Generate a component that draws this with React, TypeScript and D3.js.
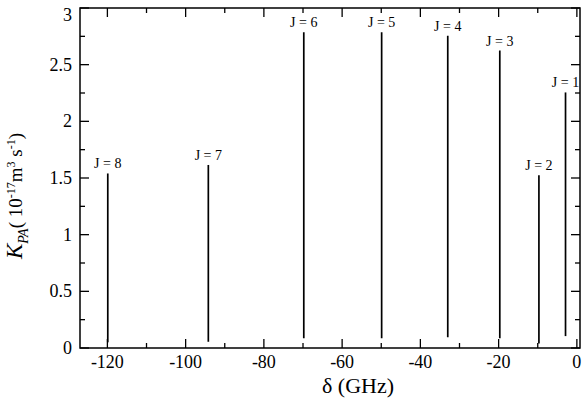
import React from 'react';
import * as d3 from 'd3';

// peaks: detuning (GHz), top and bottom of each line (10^-17 m^3 s^-1)
const labels = ['J = 8', 'J = 7', 'J = 6', 'J = 5', 'J = 4', 'J = 3', 'J = 2', 'J = 1'];
const detuning = [-119.9, -94.2, -69.8, -49.9, -33.0, -19.7, -9.7, -2.9];
const peakTop = [1.54, 1.615, 2.785, 2.785, 2.755, 2.625, 1.525, 2.255];
const peakBase = [0.05, 0.055, 0.085, 0.085, 0.095, 0.085, 0.04, 0.105];

const xMajor = [-120, -100, -80, -60, -40, -20, 0];
const xMinor = [-110, -90, -70, -50, -30, -10];
const yMajor = [0, 0.5, 1, 1.5, 2, 2.5, 3];
const yMinor = [0.25, 0.75, 1.25, 1.75, 2.25, 2.75];

const W = 588, H = 400;
const m = { left: 80, right: 8, top: 8, bottom: 52 };
const font = 'Liberation Serif';

export default function App() {
  const x = d3.scaleLinear().domain([-127, 0.8]).range([m.left, W - m.right]);
  const y = d3.scaleLinear().domain([0, 3]).range([H - m.bottom, m.top]);
  const x0 = m.left, x1 = W - m.right, y0 = H - m.bottom, y1 = m.top;
  const big = 9, small = 5;

  return (
    <svg width={W} height={H} style={{ position: 'absolute', left: 0, top: 0, background: '#fff' }}>
      {/* ticks, mirrored on all four sides */}
      <g stroke="#000" strokeWidth={1.3}>
        {xMajor.map(v => (
          <g key={'xm' + v}>
            <line x1={x(v)} x2={x(v)} y1={y0} y2={y0 - big} />
            <line x1={x(v)} x2={x(v)} y1={y1} y2={y1 + big} />
          </g>
        ))}
        {xMinor.map(v => (
          <g key={'xn' + v}>
            <line x1={x(v)} x2={x(v)} y1={y0} y2={y0 - small} />
            <line x1={x(v)} x2={x(v)} y1={y1} y2={y1 + small} />
          </g>
        ))}
        {yMajor.map(v => (
          <g key={'ym' + v}>
            <line x1={x0} x2={x0 + big} y1={y(v)} y2={y(v)} />
            <line x1={x1} x2={x1 - big} y1={y(v)} y2={y(v)} />
          </g>
        ))}
        {yMinor.map(v => (
          <g key={'yn' + v}>
            <line x1={x0} x2={x0 + small} y1={y(v)} y2={y(v)} />
            <line x1={x1} x2={x1 - small} y1={y(v)} y2={y(v)} />
          </g>
        ))}
      </g>

      {/* spectral lines */}
      <g stroke="#000" strokeWidth={1.7}>
        {detuning.map((d, i) => (
          <line key={i} x1={x(d)} x2={x(d)} y1={y(peakBase[i])} y2={y(peakTop[i])} />
        ))}
      </g>
      {detuning.map((d, i) => (
        <text key={i} x={x(d)} y={y(peakTop[i]) - 5} textAnchor="middle"
          style={{ fontFamily: font, fontSize: 14 }}>{labels[i]}</text>
      ))}

      <rect x={x0} y={y1} width={x1 - x0} height={y0 - y1} fill="none" stroke="#000" strokeWidth={1.5} />

      {xMajor.map(v => (
        <text key={'xt' + v} x={x(v)} y={y0 + 20} textAnchor="middle"
          style={{ fontFamily: font, fontSize: 18 }}>{v}</text>
      ))}
      {yMajor.map(v => (
        <text key={'yt' + v} x={x0 - 8} y={Math.max(y(v) + 6, 21)} textAnchor="end"
          style={{ fontFamily: font, fontSize: 18 }}>{v}</text>
      ))}

      <text x={358} y={393} textAnchor="middle" style={{ fontFamily: font, fontSize: 22 }}>δ (GHz)</text>

      <text transform="translate(22,196) rotate(-90)" textAnchor="middle" style={{ fontFamily: font, fontSize: 19 }}>
        <tspan fontStyle="italic" fontSize={23}>K</tspan>
        <tspan fontStyle="italic" fontSize={14} dy={6}>PA</tspan>
        <tspan dy={-6}>( 10</tspan>
        <tspan fontSize={12} dy={-7}>-17</tspan>
        <tspan dy={7}>m</tspan>
        <tspan fontSize={12} dy={-7}>3</tspan>
        <tspan dy={7}> s</tspan>
        <tspan fontSize={12} dy={-7}>-1</tspan>
        <tspan dy={7}>)</tspan>
      </text>
    </svg>
  );
}
